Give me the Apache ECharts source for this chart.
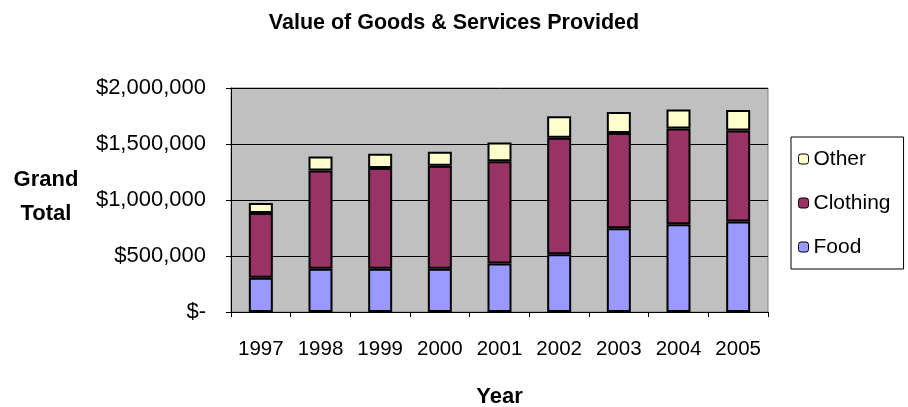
<!DOCTYPE html>
<html>
<head>
<meta charset="utf-8">
<script src="https://cdn.jsdelivr.net/npm/echarts@6/dist/echarts.min.js"></script>
<style>
html,body{margin:0;padding:0;background:#fff;}
#chart{width:908px;height:407px;}
</style>
</head>
<body>
<div id="chart"></div>
<script>
var years = ['1997','1998','1999','2000','2001','2002','2003','2004','2005'];
var food = [305000, 386000, 386000, 386000, 433000, 516000, 748000, 783000, 807000];
var clothing = [579000, 878000, 899000, 920000, 914000, 1039000, 851000, 855000, 813000];
var other = [89000, 125000, 127000, 124000, 166000, 193000, 187000, 169000, 184000];
var yTicks = [0, 500000, 1000000, 1500000, 2000000];

var FONT = '"Liberation Sans", Arial, sans-serif';

function fmt(v) {
  if (v === 0) return '$-';
  return '$' + String(v).replace(/\B(?=(\d{3})+(?!\d))/g, ',');
}

var chart = echarts.init(document.getElementById('chart'));
var barStyle = function (c) { return { color: c, borderColor: '#000', borderWidth: 2 }; };
chart.setOption({
  animation: false,
  backgroundColor: '#fff',
  title: [
    { text: 'Value of Goods & Services Provided', left: 'center', top: 12, padding: 0,
      textStyle: { fontFamily: FONT, fontSize: 21.5, fontWeight: 'bold', color: '#000' } },
    { text: 'Grand\nTotal', left: 46, top: 163, padding: 0, textAlign: 'center',
      textStyle: { fontFamily: FONT, fontSize: 22, fontWeight: 'bold', color: '#000', lineHeight: 34 } }
  ],
  legend: {
    orient: 'vertical',
    left: 791, top: 137,
    data: ['Other', 'Clothing', 'Food'],
    itemWidth: 10, itemHeight: 10, itemGap: 20,
    padding: [10, 13, 10, 7],
    borderColor: '#000', borderWidth: 1,
    backgroundColor: '#fff',
    textStyle: { fontFamily: FONT, fontSize: 21, color: '#000', lineHeight: 24 },
    itemStyle: { borderColor: '#000', borderWidth: 1 }
  },
  grid: {
    left: 231, right: 140, top: 88, bottom: 95,
    outerBoundsMode: 'none', containLabel: false,
    show: true, backgroundColor: '#C0C0C0', borderColor: '#808080', borderWidth: 1
  },
  xAxis: {
    type: 'category',
    data: years,
    name: 'Year', nameLocation: 'middle', nameGap: 74,
    nameTextStyle: { fontFamily: FONT, fontSize: 22, fontWeight: 'bold', color: '#000' },
    axisLine: { lineStyle: { color: '#000', width: 1 } },
    axisTick: { show: true, length: 5, lineStyle: { color: '#000' } },
    axisLabel: { fontFamily: FONT, fontSize: 20.5, color: '#000', margin: 27 }
  },
  yAxis: {
    type: 'value',
    min: yTicks[0], max: yTicks[yTicks.length - 1], interval: yTicks[1] - yTicks[0],
    axisLine: { show: true, lineStyle: { color: '#000', width: 1 } },
    axisTick: { show: true, length: 5, lineStyle: { color: '#000' } },
    splitLine: { show: true, lineStyle: { color: '#000', width: 1 } },
    axisLabel: { fontFamily: FONT, fontSize: 22, color: '#000', margin: 25, formatter: fmt }
  },
  series: [
    { name: 'Food', type: 'bar', stack: 'total', data: food, barWidth: 24, itemStyle: barStyle('#9999FF') },
    { name: 'Clothing', type: 'bar', stack: 'total', data: clothing, barWidth: 24, itemStyle: barStyle('#993366') },
    { name: 'Other', type: 'bar', stack: 'total', data: other, barWidth: 24, itemStyle: barStyle('#FFFFCC') }
  ]
});
</script>
</body>
</html>
